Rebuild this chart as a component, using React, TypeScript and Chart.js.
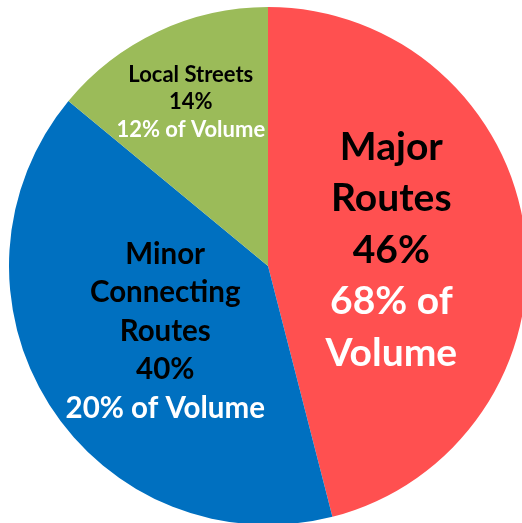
import React, { useEffect, useRef } from "react";
import { Chart, registerables } from "chart.js";

Chart.register(...registerables);

const categories = ["Major Routes", "Minor Connecting Routes", "Local Streets"];
const lengthShares = [46, 40, 14];
const volumeShares = [68, 20, 12];
const sliceColors = ["#FF5050", "#0070C0", "#9BBB59"];

const nameLines = [["Major", "Routes"], ["Minor", "Connecting", "Routes"], ["Local Streets"]];
const volumeLines = [["68% of", "Volume"], ["20% of Volume"], ["12% of Volume"]];

const labelFontSizes = [39, 29.5, 22];
const labelLineHeights = [51.5, 38.5, 27.5];
const labelRadialFractions = [0.48, 0.47, 0.7];
const FONT = "Lato, 'Open Sans', sans-serif";

const labelPlugin = {
  id: "sliceLabels",
  afterDatasetsDraw(chart: any) {
    const ctx = chart.ctx;
    const meta = chart.getDatasetMeta(0);
    meta.data.forEach((arc: any, i: number) => {
      const { x, y, startAngle, endAngle, outerRadius } = arc.getProps(
        ["x", "y", "startAngle", "endAngle", "outerRadius"],
        true
      );
      const mid = (startAngle + endAngle) / 2;
      const r = outerRadius * labelRadialFractions[i];
      const cx = x + Math.cos(mid) * r;
      const cy = y + Math.sin(mid) * r;
      const lines: { text: string; color: string }[] = [];
      nameLines[i].forEach((t) => lines.push({ text: t, color: "#000000" }));
      lines.push({ text: `${lengthShares[i]}%`, color: "#000000" });
      volumeLines[i].forEach((t) => lines.push({ text: t, color: "#FFFFFF" }));
      const lh = labelLineHeights[i];
      const top = cy - ((lines.length - 1) * lh) / 2;
      ctx.save();
      ctx.font = `bold ${labelFontSizes[i]}px ${FONT}`;
      ctx.textAlign = "center";
      ctx.textBaseline = "middle";
      lines.forEach((ln, k) => {
        ctx.fillStyle = ln.color;
        ctx.fillText(ln.text, cx, top + k * lh);
      });
      ctx.restore();
    });
  },
};

export default function App() {
  const canvasRef = useRef<HTMLCanvasElement | null>(null);

  useEffect(() => {
    if (!canvasRef.current) return;
    const chart = new Chart(canvasRef.current, {
      type: "pie",
      data: {
        labels: categories,
        datasets: [
          {
            data: lengthShares,
            backgroundColor: sliceColors,
            borderWidth: 0,
            hoverOffset: 0,
          },
        ],
      },
      options: {
        responsive: false,
        animation: false,
        devicePixelRatio: 1,
        layout: { padding: 0 },
        plugins: {
          legend: { display: false },
          tooltip: { enabled: false },
        },
        events: [],
      },
      plugins: [labelPlugin],
    });
    return () => chart.destroy();
  }, []);

  return (
    <div
      style={{
        position: "fixed",
        left: 0,
        top: 0,
        width: 522,
        height: 523,
        overflow: "hidden",
        background: "#ffffff",
      }}
    >
      <canvas
        ref={canvasRef}
        width={518}
        height={518}
        style={{ position: "absolute", left: 9, top: 7, width: 518, height: 518 }}
      />
    </div>
  );
}
